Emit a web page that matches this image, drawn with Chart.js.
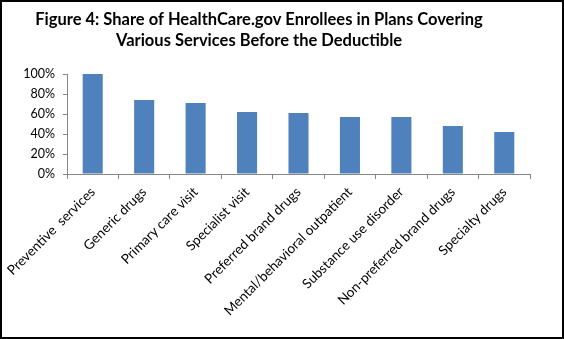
<!DOCTYPE html>
<html><head><meta charset="utf-8">
<script src="https://cdn.jsdelivr.net/npm/chart.js@4"></script>
<style>html,body{margin:0;padding:0;background:#fff}#wrap{width:564px;height:339px}</style>
</head><body><div id="wrap"><canvas id="c" width="564" height="339"></canvas></div>
<script>
const categories = ["Preventive  services","Generic drugs","Primary care visit","Specialist visit","Preferred brand drugs","Mental/behavioral outpatient","Substance use disorder","Non-preferred brand drugs","Specialty drugs"];
const shares = [100, 74, 71, 62, 61, 57, 57, 48, 42];
const titleLines = ["Figure 4: Share of HealthCare.gov Enrollees in Plans Covering","Various Services Before the Deductible"];

const framePlugin = {
  id: 'frame',
  afterDraw(chart) {
    const ctx = chart.ctx;
    ctx.save();
    ctx.fillStyle = '#000';
    ctx.textAlign = 'center';
    ctx.textBaseline = 'middle';
    ctx.font = 'bold 16.5px Lato';
    ctx.fillText(titleLines[0], 259, 20);
    ctx.fillText(titleLines[1], 259, 41);
    ctx.strokeStyle = '#000';
    ctx.lineWidth = 2;
    ctx.strokeRect(1, 1, chart.width - 2, chart.height - 2);
    ctx.restore();
  }
};

new Chart(document.getElementById('c'), {
  type: 'bar',
  data: { labels: categories, datasets: [{ data: shares, backgroundColor: '#4F81BD', borderWidth: 0, barPercentage: 0.78, categoryPercentage: 0.5 }] },
  options: {
    responsive: false, animation: false,
    layout: { padding: { left: 8, right: 34, top: 74, bottom: 0 } },
    plugins: { legend: { display: false }, tooltip: { enabled: false }, title: { display: false } },
    scales: {
      x: {
        grid: { display: true, drawOnChartArea: false, drawTicks: true, tickLength: 5, color: '#868686', offset: true },
        border: { color: '#868686' },
        ticks: { color: '#000', font: { family: 'Lato', size: 13.5 }, minRotation: 45, maxRotation: 45, autoSkip: false, padding: 5 },
        afterFit(s) { s.height = 165; }
      },
      y: {
        min: 0, max: 100,
        grid: { display: true, drawOnChartArea: false, drawTicks: true, tickLength: 4, color: '#868686' },
        border: { color: '#868686' },
        ticks: { stepSize: 20, color: '#000', font: { family: 'Lato', size: 12.5 }, padding: 8, callback: v => v + '%' },
        afterFit(s) { s.width = 59; }
      }
    }
  },
  plugins: [framePlugin]
});
</script></body></html>
